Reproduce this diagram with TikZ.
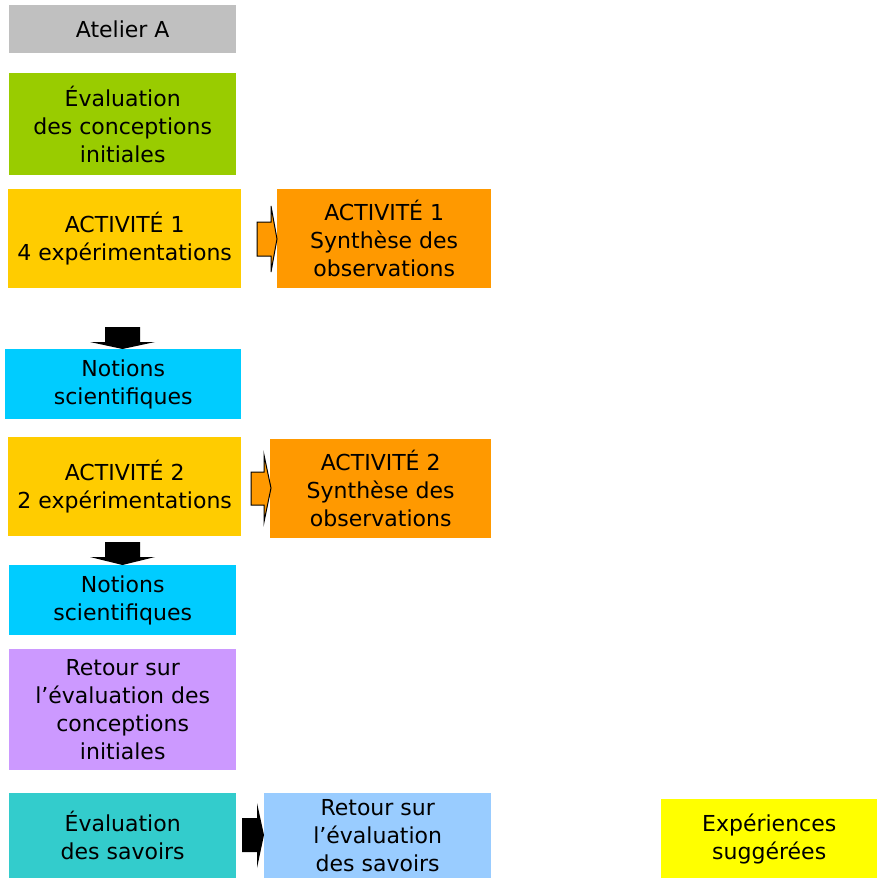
\documentclass[tikz,border=0pt]{standalone}
\usepackage{fontspec}
\setmainfont{DejaVu Sans}
\begin{document}
\begin{tikzpicture}[x=1pt,y=-1pt,
  box/.style={anchor=north west,inner sep=0pt,align=center,font=\fontsize{22}{28}\selectfont,text=black},
  barrow/.style={draw=black,line width=1pt,line join=miter},
]
\useasboundingbox (0,0) rectangle (877,880);
\definecolor{cgray}{HTML}{C0C0C0}
\definecolor{cgreen}{HTML}{99CC00}
\definecolor{cgold}{HTML}{FFCC00}
\definecolor{corange}{HTML}{FF9900}
\definecolor{ccyan}{HTML}{00CCFF}
\definecolor{cviolet}{HTML}{CC99FF}
\definecolor{cteal}{HTML}{33CCCC}
\definecolor{clblue}{HTML}{99CCFF}
\definecolor{cyellow}{HTML}{FFFF00}

\node[box,fill=cgray,minimum width=227pt,minimum height=48pt] (atelier) at (9,5) {Atelier A};
\node[box,fill=cgreen,minimum width=227pt,minimum height=102pt] (evalinit) at (9,73) {Évaluation\\des conceptions\\initiales};
\node[box,fill=cgold,minimum width=233pt,minimum height=99pt] (act1) at (8,189) {ACTIVITÉ 1\\4 expérimentations};
\node[box,fill=corange,minimum width=214pt,minimum height=99pt] (syn1) at (277,189) {ACTIVITÉ 1\\Synthèse des\\observations};
\node[box,fill=ccyan,minimum width=236pt,minimum height=70pt] (not1) at (5,349) {Notions\\scientifiques};
\node[box,fill=cgold,minimum width=233pt,minimum height=99pt] (act2) at (8,437) {ACTIVITÉ 2\\2 expérimentations};
\node[box,fill=corange,minimum width=221pt,minimum height=99pt] (syn2) at (270,439) {ACTIVITÉ 2\\Synthèse des\\observations};
\node[box,fill=ccyan,minimum width=227pt,minimum height=70pt] (not2) at (9,565) {Notions\\scientifiques};
\node[box,fill=cviolet,minimum width=227pt,minimum height=121pt] (retinit) at (9,649) {Retour sur\\l’évaluation des\\conceptions\\initiales};
\node[box,fill=cteal,minimum width=227pt,minimum height=85pt] (evalsav) at (9,793) {Évaluation\\des savoirs};
\node[box,fill=clblue,minimum width=227pt,minimum height=85pt] (retsav) at (264,793) {Retour sur\\l’évaluation\\des savoirs};
\node[box,fill=cyellow,minimum width=216pt,minimum height=79pt] (exp) at (661,799) {Expériences\\suggérées};

% right arrow act1 -> syn1
\draw[barrow,fill=corange] (257,222) -- (271,222) -- (271,206) -- (277,239) -- (271,272) -- (271,256) -- (257,256) -- cycle;
% right arrow act2 -> syn2
\draw[barrow,fill=corange] (251,472) -- (264,472) -- (264,455) -- (271,488) -- (264,522) -- (264,505) -- (251,505) -- cycle;
% down arrow act1 -> not1
\fill[black] (105,327) -- (140,327) -- (140,342) -- (155,342) -- (122.5,349) -- (90,342) -- (105,342) -- cycle;
% down arrow act2 -> not2
\fill[black] (105,542) -- (140,542) -- (140,557) -- (155,557) -- (122.5,565) -- (90,557) -- (105,557) -- cycle;
% right arrow evalsav -> retsav
\fill[black] (242,818) -- (257,818) -- (257,803) -- (264,835) -- (257,868) -- (257,852) -- (242,852) -- cycle;
\end{tikzpicture}
\end{document}
